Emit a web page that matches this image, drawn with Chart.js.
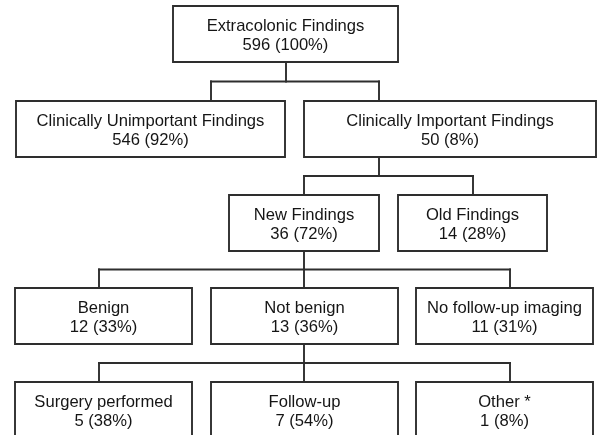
<!DOCTYPE html>
<html>
<head>
<meta charset="utf-8">
<script src="https://cdn.jsdelivr.net/npm/chart.js@4"></script>
<style>
  html, body { margin: 0; padding: 0; background: #fff; }
  #wrap { width: 602px; height: 435px; }
</style>
</head>
<body>
<div id="wrap"><canvas id="arbol" width="602" height="435"></canvas></div>
<script>
// data of the tree
const nodeTitles = ['Extracolonic Findings', 'Clinically Unimportant Findings', 'Clinically Important Findings',
  'New Findings', 'Old Findings', 'Benign', 'Not benign', 'No follow-up imaging',
  'Surgery performed', 'Follow-up', 'Other *']
const nodeCounts = [596, 546, 50, 36, 14, 12, 13, 11, 5, 7, 1]
const nodePercents = [100, 92, 8, 72, 28, 33, 36, 31, 38, 54, 8]
const nodeParents = [-1, 0, 0, 2, 2, 3, 3, 3, 6, 6, 6]

// layout (in canvas units, axis 0..602 x 0..435)
const nodeLevel = [0, 1, 1, 2, 2, 3, 3, 3, 4, 4, 4]
const rowTop = [6, 101, 195, 288, 382]
const boxHeight = 56
const boxLeft = [173, 16, 304, 229, 398, 15, 211, 416, 15, 211, 416]
const boxRight = [398, 285, 596, 379, 547, 192, 398, 593, 192, 398, 593]
const attachX = [286, 211, 379, 304, 473, 99, 304, 510, 99, 304, 510]

const lineColor = '#2e2e2e'
const lineWidth = 1.9

const datasets = []

// boxes
nodeTitles.forEach((t, i) => {
  const top = rowTop[nodeLevel[i]]
  const bottom = top + boxHeight
  datasets.push({
    type: 'line',
    data: [
      {x: boxLeft[i], y: top}, {x: boxRight[i], y: top},
      {x: boxRight[i], y: bottom}, {x: boxLeft[i], y: bottom},
      {x: boxLeft[i], y: top}, {x: boxRight[i], y: top}
    ],
    borderColor: lineColor,
    borderWidth: lineWidth,
    borderJoinStyle: 'miter',
    pointRadius: 0,
    fill: false,
    tension: 0
  })
})

// connectors
nodeTitles.forEach((t, p) => {
  const kids = nodeParents.map((par, k) => par === p ? k : -1).filter(k => k >= 0)
  if (kids.length === 0) return
  const pBottom = rowTop[nodeLevel[p]] + boxHeight
  const cTop = rowTop[nodeLevel[kids[0]]]
  const midY = (pBottom + cTop) / 2
  const xs = kids.map(k => attachX[k])
  const conector = {
    type: 'line', borderColor: lineColor, borderWidth: lineWidth,
    pointRadius: 0, fill: false, tension: 0, borderCapStyle: 'square'
  }
  datasets.push(Object.assign({}, conector, {data: [{x: attachX[p], y: pBottom}, {x: attachX[p], y: midY}]}))
  datasets.push(Object.assign({}, conector, {data: [{x: Math.min(...xs), y: midY}, {x: Math.max(...xs), y: midY}]}))
  kids.forEach(k => {
    datasets.push(Object.assign({}, conector, {data: [{x: attachX[k], y: midY}, {x: attachX[k], y: cTop}]}))
  })
})

const textos = {
  id: 'textos',
  afterDatasetsDraw(chart) {
    const ctx = chart.ctx
    const sx = chart.scales.x
    const sy = chart.scales.y
    ctx.save()
    ctx.fillStyle = '#151515'
    ctx.font = '16.6px "Liberation Sans", Arial, sans-serif'
    ctx.textAlign = 'center'
    ctx.textBaseline = 'alphabetic'
    nodeTitles.forEach((t, i) => {
      const top = rowTop[nodeLevel[i]]
      const cx = sx.getPixelForValue((boxLeft[i] + boxRight[i]) / 2)
      ctx.fillText(t, cx, sy.getPixelForValue(top + 25))
      ctx.fillText(`${nodeCounts[i]} (${nodePercents[i]}%)`, cx, sy.getPixelForValue(top + 43.5))
    })
    ctx.restore()
  }
}

const grafico = document.querySelector('#arbol')
new Chart(grafico, {
  type: 'line',
  data: { datasets },
  options: {
    responsive: false,
    animation: false,
    events: [],
    layout: { padding: 0 },
    plugins: { legend: { display: false }, tooltip: { enabled: false } },
    scales: {
      x: { type: 'linear', min: 0, max: 602, display: false },
      y: { type: 'linear', min: 0, max: 435, reverse: true, display: false }
    }
  },
  plugins: [textos]
})
</script>
</body>
</html>
